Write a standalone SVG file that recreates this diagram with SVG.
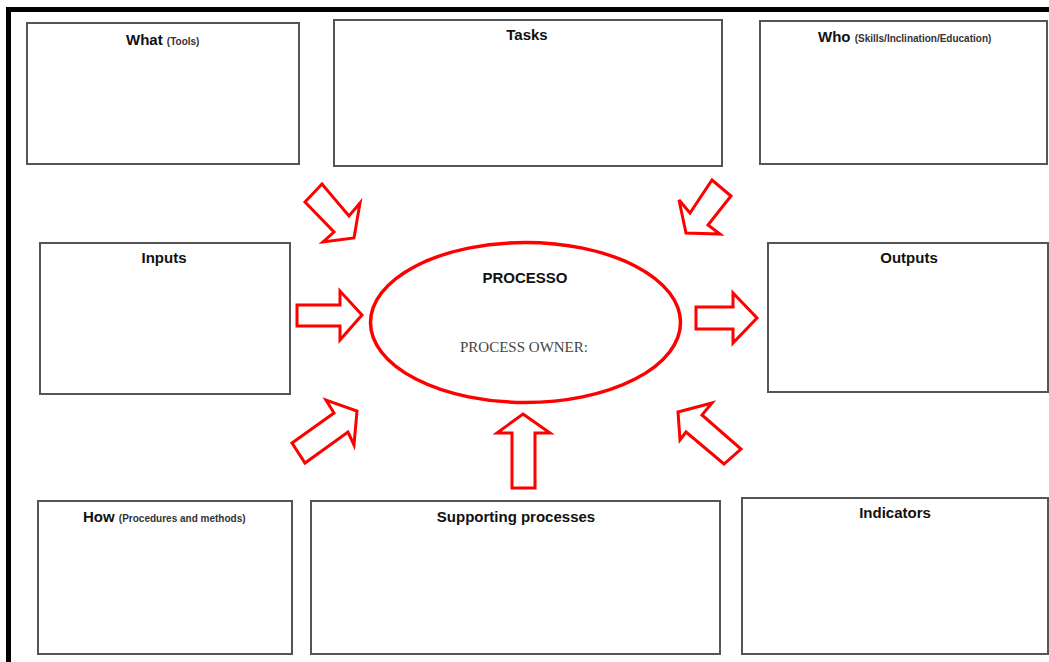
<svg xmlns="http://www.w3.org/2000/svg" width="1049" height="662" viewBox="0 0 1049 662">
<style>
.box{fill:#fff;stroke:#555;stroke-width:2}
.arr{fill:#fff;stroke:#f00;stroke-width:3;stroke-linejoin:miter}
.t{font-family:"Liberation Sans",Arial,sans-serif;font-weight:bold;font-size:15px;fill:#111}
.s{font-size:10px;fill:#333}
</style>
<rect x="0" y="0" width="1049" height="662" fill="#fff"/>
<rect x="8.5" y="9.5" width="1060" height="680" fill="none" stroke="#000" stroke-width="5"/>
<g id="what"><rect class="box" x="27" y="23" width="272" height="141"/><text class="t" x="126" y="45">What <tspan class="s">(Tools)</tspan></text></g>
<g id="tasks"><rect class="box" x="334" y="20" width="388" height="146"/><text class="t" x="527" y="40" text-anchor="middle">Tasks</text></g>
<g id="who"><rect class="box" x="760" y="21" width="287" height="143"/><text class="t" x="818" y="42">Who <tspan class="s">(Skills/Inclination/Education)</tspan></text></g>
<g id="inputs"><rect class="box" x="40" y="243" width="250" height="151"/><text class="t" x="164" y="263" text-anchor="middle">Inputs</text></g>
<g id="outputs"><rect class="box" x="768" y="243" width="280" height="149"/><text class="t" x="909" y="263" text-anchor="middle">Outputs</text></g>
<g id="how"><rect class="box" x="38" y="501" width="254" height="153"/><text class="t" x="83" y="522">How <tspan class="s">(Procedures and methods)</tspan></text></g>
<g id="supporting"><rect class="box" x="311" y="501" width="409" height="153"/><text class="t" x="516" y="522" text-anchor="middle">Supporting processes</text></g>
<g id="indicators"><rect class="box" x="742" y="498" width="306" height="156"/><text class="t" x="895" y="518" text-anchor="middle">Indicators</text></g>
<g id="process"><ellipse cx="525.5" cy="322.5" rx="155" ry="80" fill="#fff" stroke="#f00" stroke-width="3.5"/><text class="t" x="525" y="283" text-anchor="middle">PROCESSO</text><text x="524" y="352" text-anchor="middle" font-family="'Liberation Serif','Times New Roman',serif" font-size="15" fill="#444">PROCESS OWNER:</text></g>
<g id="connectors">
<polygon class="arr" points="305,202 322,184 349,216 360,203 354,238 323,242 334,232"/>
<polygon class="arr" points="712,180 731,196 708,225 720,234 686,233 679,200 690,213"/>
<polygon class="arr" points="297,305 340,305 340,291 362,315 340,340 340,326 297,326"/>
<polygon class="arr" points="696,307 733,307 733,293 757,318 733,343 733,329 696,329"/>
<polygon class="arr" points="292,443 334,413 326,400 357,411 354,445 348,432 305,463"/>
<polygon class="arr" points="678,412 712,403 702,415 741,449 724,464 686,432 680,440"/>
<polygon class="arr" points="523,414 550,433 535,433 535,488 512,488 512,433 497,433"/>
</g>
</svg>
